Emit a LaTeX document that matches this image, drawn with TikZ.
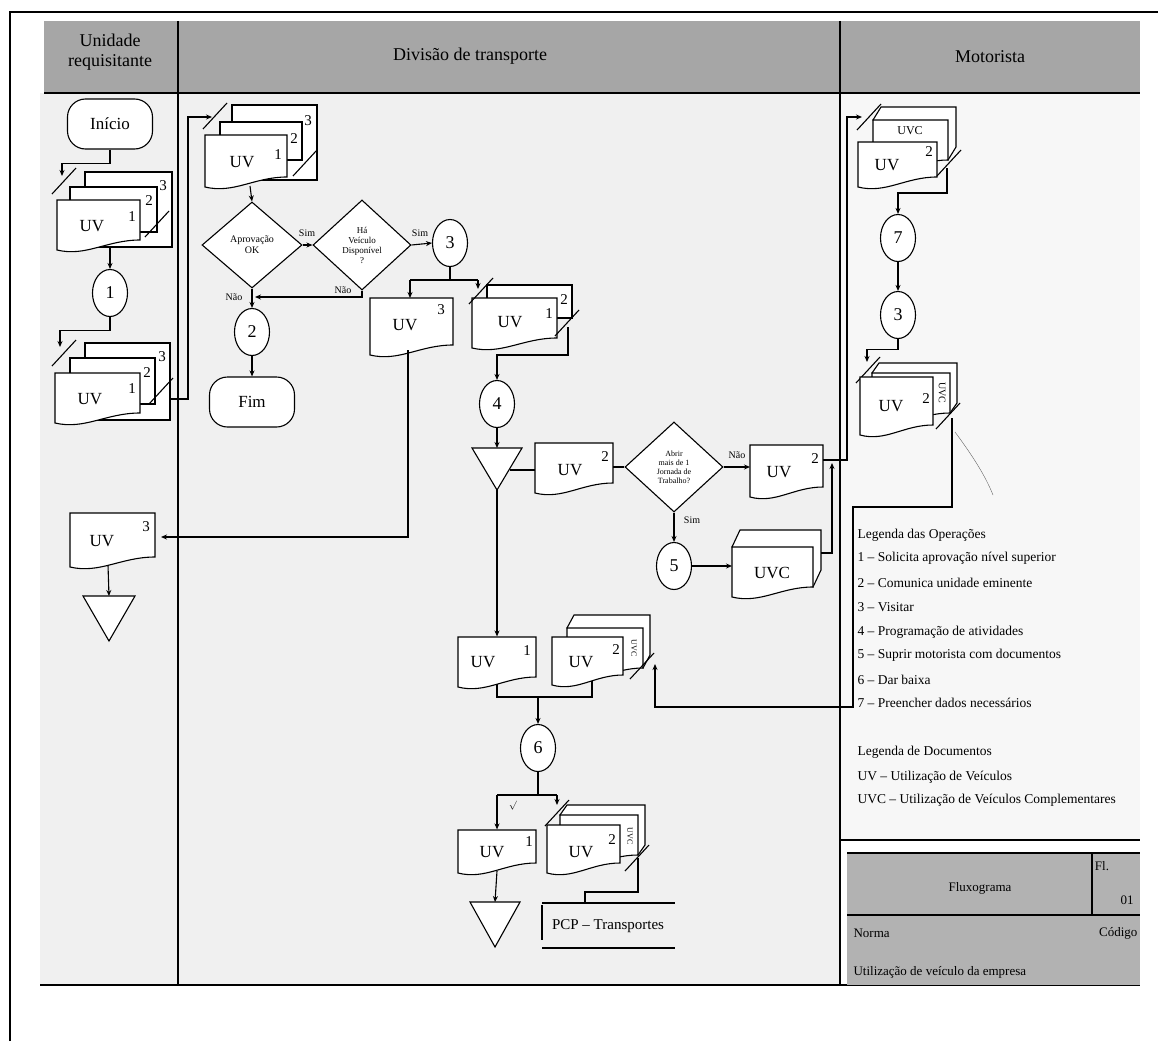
\documentclass[tikz,border=0pt]{standalone}
\usepackage{fontspec}
\setmainfont{Liberation Serif}
\usetikzlibrary{arrows.meta,shapes.geometric}
\newcommand{\fsz}[2]{\fontsize{#1}{#2}\selectfont}
\newcommand{\WavyDoc}[4]{\filldraw[fill=white,line width=1.1pt] (#1,#2) -- ({#1+#3},#2) -- ({#1+#3},{#2+#4-10}) .. controls ({#1+0.6*#3},{#2+#4-10}) and ({#1+0.35*#3},{#2+#4+7}) .. (#1,{#2+#4}) -- cycle;}
\newcommand{\DocAnchor}[5]{\node[inner sep=0pt,minimum width=#4pt,minimum height=#5pt] (#1) at ({#2+#4/2},{#3+#5/2}) {};}
\newcommand{\CopyRect}[4]{\filldraw[fill=white,line width=1.1pt] (#1,#2) rectangle (#3,#4);}
\newcommand{\UVCBox}[6]{\filldraw[fill=white,line width=1.1pt] (#1,#2) -- ({#1+#5},{#2-#6}) -- ({#1+#3+#5},{#2-#6}) -- ({#1+#3+#5},{#2+#4-10-#6}) -- ({#1+#3},{#2+#4-10}) -- cycle; \WavyDoc{#1}{#2}{#3}{#4}}
\newcommand{\SlashMark}[2]{\draw[line width=1.1pt] ({#1-12},{#2+13}) -- ({#1+12},{#2-13});}
\begin{document}
\begin{tikzpicture}[x=1pt,y=-1pt,line width=1.1pt,
 ln/.style={line width=1.1pt},
 arr/.style={line width=1.1pt,-{Stealth[length=6pt,width=5pt]}},
 term/.style={draw,line width=1.1pt,rounded corners=18pt,minimum width=85pt,minimum height=50pt,inner sep=0pt,fill=white,font=\fsz{17}{19}},
 conn/.style={draw,line width=1.1pt,ellipse,minimum width=35pt,minimum height=47pt,inner sep=0pt,fill=white,font=\fsz{18}{20}},
 decision/.style={draw,line width=1.1pt,diamond,inner sep=0pt,fill=white,align=center},
 doclabel/.style={font=\fsz{17}{19},inner sep=0pt},
 numlabel/.style={font=\fsz{15}{17},inner sep=0pt},
 lbl/.style={font=\fsz{10}{12},inner sep=1.5pt},
 hdr/.style={font=\fsz{18}{20},align=center},
 legend/.style={font=\fsz{13.5}{16},anchor=west,inner sep=0pt},
 uvctext/.style={font=\fsz{10}{11},inner sep=0pt},
 tbl/.style={font=\fsz{13}{15},inner sep=0pt}]
\useasboundingbox (0,0) rectangle (1158,1041);
% background and frame
\fill[black!6] (40,93) rectangle (840,985);
\fill[black!3] (840,93) rectangle (1140,840);
\draw[line width=1.5pt] (10,1041) -- (10,12) -- (1158,12);
\fill[black!35] (44,21) rectangle (1140,93);
\draw[line width=1.3pt] (44,93) -- (1140,93);
\draw[ln] (178,21) -- (178,985);
\draw[ln] (840,21) -- (840,985);
\draw[line width=1.2pt] (40,985) -- (1140,985);
\node[hdr] (hUR) at (110,52) {Unidade\\requisitante};
\node[hdr] (hDT) at (470,56) {Divisão de transporte};
\node[hdr] (hMO) at (990,57) {Motorista};

% ---------- Lane 1 ----------
\node[term] (inicio) at (110,124) {Início};
% stack 1
\CopyRect{85}{172}{172}{247}
\CopyRect{70}{187}{157}{232}
\WavyDoc{57}{200}{83}{50}
\DocAnchor{st1}{57}{200}{83}{50}
\node[doclabel] (st1l) at (92,226) {UV};
\node[numlabel] (st1n1) at (132,217) {1};
\node[numlabel] (st1n2) at (149,201) {2};
\node[numlabel] (st1n3) at (163,186) {3};
\SlashMark{157}{224}
\coordinate (st1in) at (62,176);
\draw[arr] (inicio.south) -- ++(0,14) -| (st1in);
\SlashMark{64}{181}
\node[conn] (c1) at (110,293) {1};
\draw[arr] (110,246) -- (c1.north);
% stack 2
\CopyRect{85}{343}{170}{420}
\CopyRect{70}{358}{155}{404}
\WavyDoc{55}{373}{85}{50}
\DocAnchor{st2}{55}{373}{85}{50}
\node[doclabel] (st2l) at (90,399) {UV};
\node[numlabel] (st2n1) at (132,389) {1};
\node[numlabel] (st2n2) at (147,373) {2};
\node[numlabel] (st2n3) at (162,357) {3};
\SlashMark{161}{391}
\coordinate (st2in) at (60,347);
\draw[arr] (c1.south) -- ++(0,13) -| (st2in);
\SlashMark{64}{353}
% UV 3 lane 1
\WavyDoc{70}{513}{85}{54}
\DocAnchor{uvL}{70}{513}{85}{54}
\node[doclabel] (uvLl) at (102,541) {UV};
\node[numlabel] (uvLn) at (146,527) {3};
\coordinate (triLtop) at (109,596);
\draw[ln,fill=white] (83,596) -- (135,596) -- (109,641) -- cycle;
\draw[arr] (108,565) -- (triLtop);

% ---------- Lane 2 ----------
\CopyRect{232}{105}{317}{180}
\CopyRect{220}{122}{302}{160}
\WavyDoc{205}{135}{82}{52}
\DocAnchor{st3}{205}{135}{82}{52}
\node[doclabel] (st3l) at (242,162) {UV};
\node[numlabel] (st3n1) at (278,155) {1};
\node[numlabel] (st3n2) at (294,139) {2};
\node[numlabel] (st3n3) at (308,121) {3};
\SlashMark{305}{163}
\coordinate (st2out) at (170,399);
\coordinate (st3in) at (212,117);
\draw[arr] (st2out) -- (188,399) -- (188,117) -- (st3in);
\SlashMark{215}{116}

\node[decision,minimum width=100pt,minimum height=86pt,font=\fsz{10}{11}] (d1) at (252,245) {Aprovação\\OK};
\node[decision,minimum width=98pt,minimum height=90pt,font=\fsz{9}{10}] (d2) at (362,245) {Há\\Veículo\\Disponível\\?};
\draw[arr] (250,186) -- (d1.north);
\draw[arr] (d1.east) -- (d2.west);
\node[lbl] (sim1) at (307,233) {Sim};
\node[conn] (c3) at (450,243) {3};
\draw[arr] (d2.east) -- (c3.west);
\node[lbl] (sim2) at (420,233) {Sim};
\coordinate (jn) at (252,297);
\draw[arr] (d2.south) |- ([xshift=3pt]jn);
\draw[ln] (d1.south) -- (jn);
\node[lbl] (nao2) at (343,290) {Não};
\node[lbl] (nao1) at (234,297) {Não};
\node[conn] (c2) at (252,332) {2};
\draw[arr] (jn) -- (c2.north);
\node[term] (fim) at (252,402) {Fim};
\draw[arr] (c2.south) -- (fim.north);

% split after 3
\draw[ln] (c3.south) -- (450,280);
\draw[ln] (410,280) -- (478,280);
\WavyDoc{370}{298}{83}{57}
\DocAnchor{uv3M}{370}{298}{83}{57}
\node[doclabel] (uv3Ml) at (405,325) {UV};
\node[numlabel] (uv3Mn) at (441,310) {3};
\draw[arr] (410,280) -- (410,298);
% stack UV 1/2
\CopyRect{487}{285}{572}{318}
\WavyDoc{472}{298}{85}{50}
\DocAnchor{st4}{472}{298}{85}{50}
\node[doclabel] (st4l) at (510,322) {UV};
\node[numlabel] (st4n1) at (549,314) {1};
\node[numlabel] (st4n2) at (564,300) {2};
\SlashMark{567}{323}
\draw[arr] (478,280) -- (478,289);
\SlashMark{481}{291}
\draw[arr] (408,350) -- (408,537) -- (161,537);

\node[conn] (c4) at (497,404) {4};
\draw[arr] (568,327) -- (568,355) -| (c4.north);
\coordinate (tri1top) at (497,448);
\draw[ln,fill=white] (472,448) -- (522,448) -- (497,490) -- cycle;
\draw[arr] (c4.south) -- (tri1top);
\WavyDoc{535}{443}{78}{50}
\DocAnchor{uv2a}{535}{443}{78}{50}
\node[doclabel] (uv2al) at (570,470) {UV};
\node[numlabel] (uv2an) at (605,457) {2};
\draw[ln] (510,470) -- (535,470);
\node[decision,minimum width=98pt,minimum height=90pt,font=\fsz{8}{9}] (d3) at (674,467) {Abrir\\mais de 1\\Jornada de\\Trabalho?};
\draw[ln] (613,467) -- (d3.west);
\WavyDoc{750}{445}{73}{52}
\DocAnchor{uv2b}{750}{445}{73}{52}
\node[doclabel] (uv2bl) at (779,472) {UV};
\node[numlabel] (uv2bn) at (815,459) {2};
\draw[arr] (d3.east) -- (750,467);
\node[lbl] (nao3) at (737,455) {Não};
\node[conn] (c5) at (674,566) {5};
\draw[arr] (d3.south) -- (c5.north);
\node[lbl] (sim3) at (692,520) {Sim};
\UVCBox{732}{547}{81}{50}{8}{17}
\DocAnchor{uvcM}{732}{547}{81}{50}
\node[doclabel] (uvcMl) at (772,573) {UVC};
\draw[arr] (c5.east) -- (732,566);

% to Motorista
\draw[arr] (823,460) -- (847,460) -- (847,117) -- (862,117);
\SlashMark{869}{117}
\draw[arr] (821,553) -- (832,553) -- (832,463);

% ---------- Motorista ----------
\UVCBox{873}{120}{75}{50}{8}{13}
\node[uvctext,font=\fsz{12}{13}] (m1uvc) at (910,131) {UVC};
\WavyDoc{858}{142}{79}{45}
\DocAnchor{m1}{858}{142}{79}{45}
\node[doclabel] (m1l) at (887,165) {UV};
\node[numlabel] (m1n) at (929,152) {2};
\SlashMark{949}{163}
\node[conn] (c7) at (898,238) {7};
\draw[arr] (947,168) -- (947,193) -| (c7.north);
\node[conn] (c3b) at (898,315) {3};
\draw[arr] (c7.south) -- (c3b.north);
\draw[arr] (c3b.south) -- ++(0,10) -| (867,362);
\SlashMark{868}{370}
\UVCBox{872}{373}{78}{50}{7}{10}
\WavyDoc{860}{377}{73}{58}
\DocAnchor{m2}{860}{377}{73}{58}
\node[doclabel] (m2l) at (891,406) {UV};
\node[numlabel] (m2n) at (926,399) {2};
\node[uvctext,rotate=-90] (m2uvc) at (942,393) {UVC};
\SlashMark{948}{416}
\draw[line width=0.4pt,black!60] (955,432) .. controls (972,455) and (985,475) .. (993,495);

% ---------- lower middle ----------
\WavyDoc{458}{637}{78}{50}
\DocAnchor{uv1a}{458}{637}{78}{50}
\node[doclabel] (uv1al) at (483,662) {UV};
\node[numlabel] (uv1an) at (527,651) {1};
\draw[arr] (497,490) -- (uv1a.north);
\UVCBox{567}{628}{76}{50}{7}{13}
\WavyDoc{552}{637}{71}{48}
\DocAnchor{st5}{552}{637}{71}{48}
\node[doclabel] (st5l) at (581,662) {UV};
\node[numlabel] (st5n) at (616,650) {2};
\node[uvctext,font=\fsz{8}{9},rotate=-90] (st5uvc) at (634,648) {UVC};
\SlashMark{642}{666}
\draw[arr] (952,418) -- (952,507) -- (853,507) -- (853,707) -- (655,707) -- (655,664);

\node[conn] (c6) at (538,748) {6};
\draw[ln] (497,684) -- (497,697) -- (592,697) -- (592,681);
\draw[arr] (538,697) -- (c6.north);
\draw[ln] (c6.south) -- (538,795);
\draw[ln] (497,795) -- (557,795);
\node[font=\fsz{9}{10},inner sep=0pt] (chk) at (513,806) {$\surd$};
\WavyDoc{458}{830}{78}{43}
\DocAnchor{uv1b}{458}{830}{78}{43}
\node[doclabel] (uv1bl) at (492,852) {UV};
\node[numlabel] (uv1bn) at (529,842) {1};
\draw[arr] (497,795) -- (uv1b.north);
\draw[arr] (557,795) -- (557,805);
\SlashMark{557}{813}
\UVCBox{560}{815}{78}{50}{7}{10}
\WavyDoc{547}{825}{73}{48}
\DocAnchor{st6}{547}{825}{73}{48}
\node[doclabel] (st6l) at (581,852) {UV};
\node[numlabel] (st6n) at (612,840) {2};
\node[uvctext,font=\fsz{8}{9},rotate=-90] (st6uvc) at (630,836) {UVC};
\SlashMark{637}{858}
\coordinate (tri2top) at (495,902);
\draw[arr] (497,871) -- (tri2top);
\draw[ln,fill=white] (470,902) -- (520,902) -- (495,947) -- cycle;
\node[font=\fsz{15}{17},inner sep=0pt] (pcp) at (608,926) {PCP – Transportes};
\draw[ln] (542,903) -- (675,903);
\draw[ln] (542,948) -- (675,948);
\draw[ln] (542,905) -- (542,940);
\draw[ln] (638,858) -- (638,892) -| (585,903);

% ---------- legend ----------
\node[legend] (lgo) at (857,535) {Legenda das Operações};
\node[legend] (lg1) at (857,558) {1 – Solicita aprovação nível superior};
\node[legend] (lg2) at (857,583) {2 – Comunica unidade eminente};
\node[legend] (lg3) at (857,607) {3 – Visitar};
\node[legend] (lg4) at (857,632) {4 – Programação de atividades};
\node[legend] (lg5) at (857,655) {5 – Suprir motorista com documentos};
\node[legend] (lg6) at (857,680) {6 – Dar baixa};
\node[legend] (lg7) at (857,703) {7 – Preencher dados necessários};
\node[legend] (lgd) at (857,752) {Legenda de Documentos};
\node[legend] (lgd1) at (857,777) {UV – Utilização de Veículos};
\node[legend] (lgd2) at (857,800) {UVC – Utilização de Veículos Complementares};

% ---------- table ----------
\draw[line width=1.2pt] (840,840) -- (1140,840);
\fill[black!30] (847,853) rectangle (1140,985);
\draw[line width=1.2pt] (847,853) -- (1140,853);
\draw[line width=1.2pt] (847,915) -- (1140,915);
\draw[ln] (1092,853) -- (1092,915);
\node[tbl] (tfl) at (980,888) {Fluxograma};
\node[tbl] (tfl2) at (1102,866) {Fl.};
\node[tbl] (t01) at (1127,900) {01};
\node[tbl,anchor=west] (tnorma) at (853,933) {Norma};
\node[tbl,anchor=east] (tcod) at (1138,933) {Código};
\node[tbl,anchor=west] (tuti) at (853,972) {Utilização de veículo da empresa};
\end{tikzpicture}
\end{document}
